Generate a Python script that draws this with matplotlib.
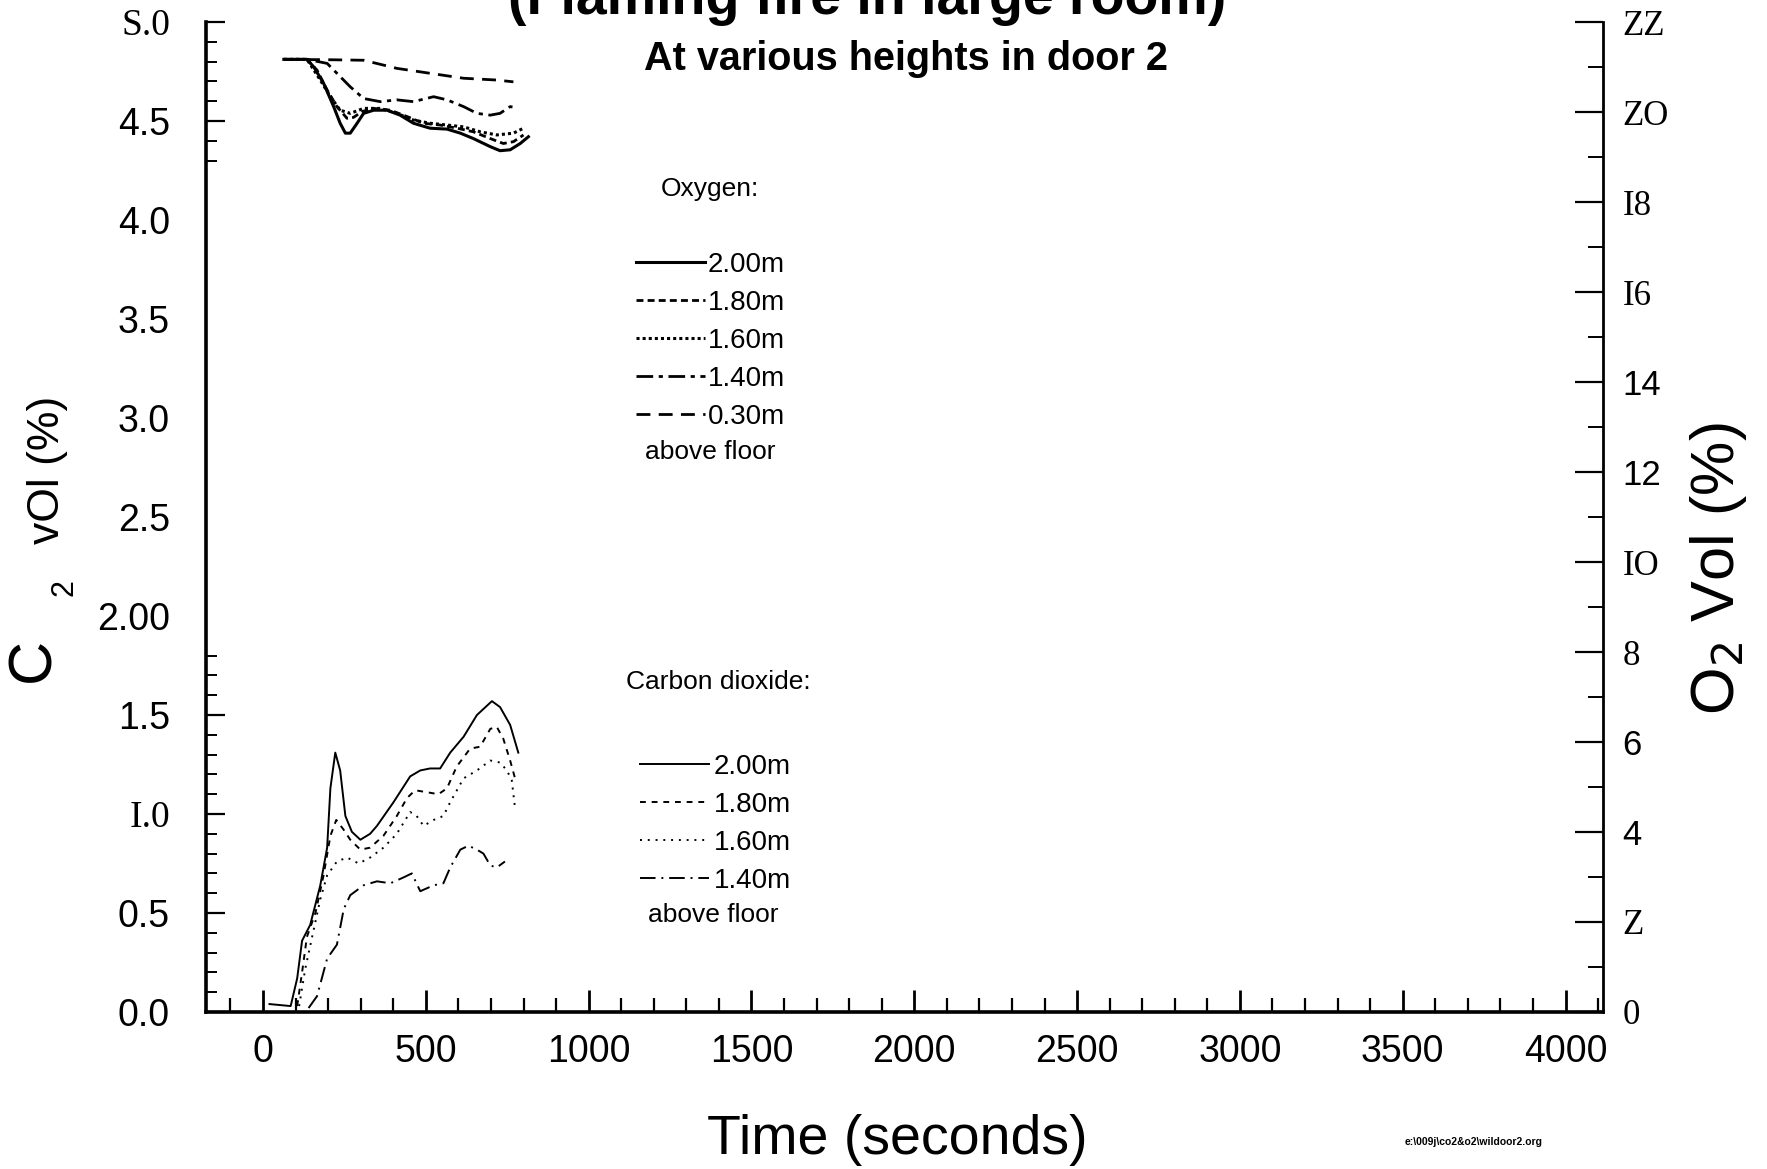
import matplotlib
matplotlib.use("Agg")
import matplotlib.pyplot as plt
from matplotlib.ticker import FixedLocator
import numpy as np

plt.rcParams['font.family'] = ['Liberation Sans', 'DejaVu Sans']

# ---------------- data ----------------
# Oxygen, right axis (O2 vol %)
o2_200_t = [64, 135, 156, 186, 217, 237, 253, 268, 289, 309, 340, 381, 421, 462, 513, 565, 606, 646, 698, 728, 759, 790, 815]
o2_200_v = [21.17, 21.17, 21.0, 20.64, 20.12, 19.75, 19.53, 19.53, 19.75, 19.97, 20.04, 20.04, 19.93, 19.75, 19.64, 19.62, 19.53, 19.41, 19.23, 19.14, 19.16, 19.30, 19.45]

o2_180_t = [64, 135, 166, 197, 227, 258, 278, 304, 340, 391, 442, 493, 544, 596, 646, 698, 738, 769, 800]
o2_180_v = [21.17, 21.17, 20.93, 20.49, 20.12, 19.86, 19.88, 20.01, 20.08, 20.04, 19.90, 19.75, 19.71, 19.64, 19.56, 19.41, 19.30, 19.34, 19.49]

o2_160_t = [64, 135, 176, 207, 237, 268, 309, 360, 411, 462, 513, 565, 616, 667, 718, 769, 800]
o2_160_v = [21.17, 21.17, 20.71, 20.34, 20.04, 19.97, 20.08, 20.08, 19.97, 19.82, 19.75, 19.71, 19.67, 19.56, 19.49, 19.53, 19.64]

o2_140_t = [64, 135, 197, 227, 268, 309, 360, 411, 462, 524, 565, 616, 657, 698, 728, 759, 774]
o2_140_v = [21.17, 21.17, 21.08, 20.86, 20.56, 20.30, 20.23, 20.27, 20.23, 20.34, 20.27, 20.12, 19.97, 19.93, 19.97, 20.12, 20.10]

o2_030_t = [64, 217, 309, 411, 513, 616, 718, 769]
o2_030_v = [21.17, 21.16, 21.15, 20.97, 20.86, 20.75, 20.71, 20.67]

# Carbon dioxide, left axis (CO2 vol %)
co2_200_t = [20, 85, 105, 120, 145, 176, 197, 207, 222, 237, 253, 273, 299, 329, 350, 401, 452, 483, 513, 544, 575, 616, 657, 703, 728, 759, 784]
co2_200_v = [0.04, 0.03, 0.17, 0.36, 0.44, 0.64, 0.83, 1.13, 1.31, 1.22, 0.99, 0.91, 0.87, 0.90, 0.94, 1.06, 1.19, 1.22, 1.23, 1.23, 1.31, 1.39, 1.50, 1.57, 1.54, 1.45, 1.31]

co2_180_t = [105, 120, 135, 161, 186, 207, 225, 248, 268, 299, 329, 370, 411, 442, 467, 503, 539, 565, 595, 636, 667, 698, 718, 738, 759, 774]
co2_180_v = [0.03, 0.20, 0.38, 0.50, 0.69, 0.89, 0.97, 0.92, 0.87, 0.82, 0.83, 0.89, 0.99, 1.08, 1.12, 1.11, 1.10, 1.13, 1.24, 1.33, 1.34, 1.43, 1.44, 1.38, 1.27, 1.18]

co2_160_t = [111, 130, 151, 176, 197, 227, 258, 294, 329, 370, 411, 452, 472, 493, 524, 554, 575, 616, 657, 698, 728, 749, 764, 774]
co2_160_v = [0.03, 0.22, 0.38, 0.57, 0.69, 0.76, 0.78, 0.75, 0.78, 0.83, 0.90, 1.01, 0.99, 0.94, 0.97, 0.99, 1.06, 1.18, 1.22, 1.27, 1.26, 1.22, 1.17, 1.03]

co2_140_t = [140, 166, 197, 227, 248, 268, 309, 350, 391, 432, 457, 483, 524, 554, 575, 606, 631, 657, 677, 698, 718, 743]
co2_140_v = [0.02, 0.08, 0.27, 0.34, 0.52, 0.59, 0.64, 0.66, 0.65, 0.68, 0.70, 0.61, 0.64, 0.65, 0.73, 0.82, 0.84, 0.82, 0.80, 0.74, 0.73, 0.76]

heights_o2 = ["2.00m", "1.80m", "1.60m", "1.40m", "0.30m"]
heights_co2 = ["2.00m", "1.80m", "1.60m", "1.40m"]

x_ticks = [0, 500, 1000, 1500, 2000, 2500, 3000, 3500, 4000]
x_ticklabels = ["0", "500", "1000", "1500", "2000", "2500", "3000", "3500", "4000"]
left_ticks = [0.0, 0.5, 1.0, 1.5, 2.0, 2.5, 3.0, 3.5, 4.0, 4.5, 5.0]
left_ticklabels = ["0.0", "0.5", "I.0", "1.5", "2.00", "2.5", "3.0", "3.5", "4.0", "4.5", "S.0"]
right_ticks = [0, 2, 4, 6, 8, 10, 12, 14, 16, 18, 20, 22]
right_ticklabels = ["0", "Z", "4", "6", "8", "IO", "12", "14", "I6", "I8", "ZO", "ZZ"]
serif_labels = {"I.0", "S.0", "0", "Z", "8", "IO", "I6", "I8", "ZO", "ZZ"}

# ---------------- figure ----------------
W, H = 1767, 1169
fig = plt.figure(figsize=(W / 100, H / 100), dpi=100)
fig.patch.set_facecolor("white")

def fx(px):
    return px / W

def fy(py):
    return 1 - py / H

ax = fig.add_axes([fx(206), fy(1012), fx(1603) - fx(206), fy(22) - fy(1012)])
ax2 = ax.twinx()

ax.set_xlim(-175, 4115)
ax.set_ylim(0, 5)
ax2.set_ylim(0, 22)

# CO2 lines (thin)
c200, = ax.plot(co2_200_t, co2_200_v, color="black", lw=1.4, ls="-")
c180, = ax.plot(co2_180_t, co2_180_v, color="black", lw=1.4, ls=(0, (3, 3)))
c160, = ax.plot(co2_160_t, co2_160_v, color="black", lw=1.4, ls=(0, (1, 3)))
c140, = ax.plot(co2_140_t, co2_140_v, color="black", lw=1.4, ls=(0, (8, 3, 1, 3)))

# O2 lines (thick)
o200, = ax2.plot(o2_200_t, o2_200_v, color="black", lw=2.2, ls="-")
o180, = ax2.plot(o2_180_t, o2_180_v, color="black", lw=2.0, ls=(0, (2.5, 1.5)))
o160, = ax2.plot(o2_160_t, o2_160_v, color="black", lw=2.2, ls=(0, (1, 1)))
o140, = ax2.plot(o2_140_t, o2_140_v, color="black", lw=2.0, ls=(0, (6, 2, 1.5, 2)))
o030, = ax2.plot(o2_030_t, o2_030_v, color="black", lw=2.0, ls=(0, (5, 3)))

# spines
for a in (ax, ax2):
    a.spines["top"].set_visible(False)
    a.patch.set_alpha(0)
ax.spines["right"].set_visible(False)
ax2.spines["left"].set_visible(False)
ax2.spines["bottom"].set_visible(False)
ax.spines["left"].set_linewidth(2.6)
ax.spines["bottom"].set_linewidth(2.6)
ax2.spines["right"].set_linewidth(2.0)

# x ticks
ax.set_xticks(x_ticks)
ax.set_xticklabels(x_ticklabels, fontsize=27)
ax.xaxis.set_minor_locator(FixedLocator([v for v in range(-100, 4101, 100) if v % 500 != 0]))
ax.tick_params(axis="x", which="major", direction="in", length=16, width=2, pad=16)
ax.tick_params(axis="x", which="minor", direction="in", length=10, width=1.6)

# left ticks (the scanned axis only has tick marks near the bottom and the top)
ax.set_yticks(left_ticks)
ax.set_yticklabels(left_ticklabels, fontsize=27)
left_minor = [round(v, 1) for v in np.arange(0.1, 1.85, 0.1) if round(v * 10) % 5 != 0]
left_minor += [4.3, 4.4, 4.6, 4.7, 4.8, 4.9]
ax.yaxis.set_minor_locator(FixedLocator(left_minor))
ax.tick_params(axis="y", which="major", direction="in", length=14, width=1.6, pad=26)
ax.tick_params(axis="y", which="minor", direction="in", length=8, width=1.4)
for tk, loc in zip(ax.yaxis.get_major_ticks(), left_ticks):
    if 2.0 <= loc <= 4.0:
        tk.tick1line.set_visible(False)

# right ticks
ax2.set_yticks(right_ticks)
ax2.set_yticklabels(right_ticklabels, fontsize=25)
ax2.yaxis.set_minor_locator(FixedLocator(list(range(1, 22, 2))))
ax2.tick_params(axis="y", which="major", direction="in", length=20, width=1.6, pad=14)
ax2.tick_params(axis="y", which="minor", direction="in", length=11, width=1.4)

for lab in ax.get_yticklabels() + ax2.get_yticklabels():
    if lab.get_text() in serif_labels:
        lab.set_fontfamily(["Liberation Serif", "DejaVu Serif"])

# axis labels
fig.text(fx(897), fy(1140), "Time (seconds)", fontsize=40, ha="center", va="center")
fig.text(fx(34), fy(660), "C", fontsize=44, rotation=90, ha="center", va="center")
fig.text(fx(64), fy(588), "2", fontsize=22, rotation=90, ha="center", va="center")
fig.text(fx(47), fy(470), "vOl (%)", fontsize=32, rotation=90, ha="center", va="center")
fig.text(fx(1718), fy(569), r"O$_2$ Vol (%)", fontsize=44, rotation=90, ha="center", va="center")

# titles
fig.text(fx(867), fy(14), "(Flaming fire in large room)", fontsize=40, fontweight="bold",
         ha="center", va="baseline")
fig.text(fx(906), fy(59), "At various heights in door 2", fontsize=28.5, fontweight="bold",
         ha="center", va="center")

# legends
leg_o2 = ax2.legend([o200, o180, o160, o140, o030], heights_o2, loc="upper left",
                    bbox_to_anchor=(fx(636), fy(252)), bbox_transform=fig.transFigure,
                    frameon=False, fontsize=20, handlelength=2.5, handletextpad=0.08,
                    labelspacing=0.43, borderpad=0, borderaxespad=0)
fig.text(fx(710), fy(189), "Oxygen:", fontsize=19, ha="center", va="center")
fig.text(fx(710), fy(452), "above floor", fontsize=19, ha="center", va="center")

leg_co2 = ax.legend([c200, c180, c160, c140], heights_co2, loc="upper left",
                    bbox_to_anchor=(fx(640), fy(754)), bbox_transform=fig.transFigure,
                    frameon=False, fontsize=20, handlelength=2.5, handletextpad=0.15,
                    labelspacing=0.43, borderpad=0, borderaxespad=0)
fig.text(fx(718), fy(682), "Carbon dioxide:", fontsize=19, ha="center", va="center")
fig.text(fx(713), fy(915), "above floor", fontsize=19, ha="center", va="center")

# file path note
fig.text(fx(1474), fy(1142), "e:\\009j\\co2&o2\\wildoor2.org", fontsize=7.5,
         fontweight="bold", ha="center", va="center")

fig.savefig("out.png", dpi=100, facecolor="white")
